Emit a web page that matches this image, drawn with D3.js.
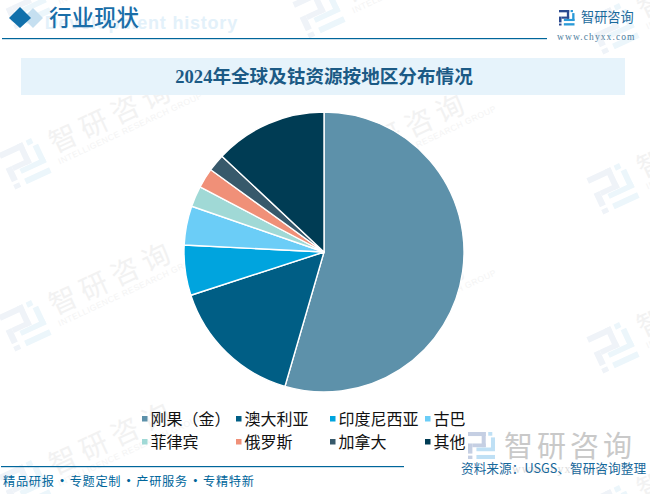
<!DOCTYPE html>
<html>
<head>
<meta charset="utf-8">
<script src="https://cdn.jsdelivr.net/npm/d3@7/dist/d3.min.js"></script>
<style>
  html, body { margin: 0; padding: 0; background: #fff; }
  svg { display: block; }
</style>
</head>
<body>
<svg id="chart" width="650" height="494"></svg>
<script>
// shares in percent
const regions = ["刚果（金）", "澳大利亚", "印度尼西亚", "古巴", "菲律宾", "俄罗斯", "加拿大", "其他"];
const shares = [54.5, 15.5, 5.8, 4.5, 2.4, 2.3, 2.0, 13.0];
const sliceColors = ["#5d91aa", "#005e85", "#00a4de", "#6bcdf7", "#a0d9d6", "#f09078", "#37596b", "#003c54"];
const footerItems = ["精品研报", "专题定制", "产研服务", "专精特新"];

const sans = "'Noto Sans CJK SC', 'Noto Sans', sans-serif";
const serif = "'Liberation Serif', 'Noto Sans CJK SC', serif";
const blue = "#00669b";

const svg = d3.select("#chart");

// logo drawn on a 16x16 grid
const logoDark = [[0,0,10.5,2.4],[8.1,0,2.4,9],[2.6,6.8,7.9,2.2],[0,6.8,2.6,6],[0,14,2.6,2]];
const logoLight = [[12,0,2.4,2.2],[13.6,3.2,2.4,8],[5,9.2,11,2.2],[5,13.6,11,2.4]];

function drawLogo(g, size, dark, light) {
  const k = size / 16;
  g.selectAll(null).data(logoDark).join("rect")
    .attr("x", d => d[0] * k).attr("y", d => d[1] * k)
    .attr("width", d => d[2] * k).attr("height", d => d[3] * k)
    .attr("fill", dark);
  g.selectAll(null).data(logoLight).join("rect")
    .attr("x", d => d[0] * k).attr("y", d => d[1] * k)
    .attr("width", d => d[2] * k).attr("height", d => d[3] * k)
    .attr("fill", light);
}

// background watermark tiles
const tileX = [25, 319, 613];
const tileY = [[3, 163, 325, 485], [12, 176, 340], [28, 188, 347, 510]];
tileX.forEach((x, i) => {
  tileY[i].forEach(y => {
    const t = svg.append("g").attr("transform", `translate(${x},${y}) rotate(-25)`);
    drawLogo(t.append("g").attr("transform", "translate(-20,-20)"), 40, "#eff3f8", "#ecf6fb");
    t.append("text").attr("x", 31).attr("y", 4)
      .attr("font-family", sans).attr("font-size", 28).attr("letter-spacing", 6)
      .attr("fill", "#f2f2f2").text("智研咨询");
    t.append("text").attr("x", 31).attr("y", 16)
      .attr("font-family", "'Liberation Sans', sans-serif").attr("font-size", 8.5).attr("letter-spacing", 0.5)
      .attr("fill", "#f4f4f4").text("INTELLIGENCE RESEARCH GROUP");
  });
});

// header
svg.append("text").attr("x", 238).attr("y", 29).attr("text-anchor", "end")
  .attr("font-family", "'Liberation Sans', sans-serif").attr("font-size", 18).attr("font-weight", 700)
  .attr("letter-spacing", 0.8).attr("fill", "#e3f1fa").text("Development history");
svg.append("path").attr("d", "M33 8L43 18L33 28L23 18Z").attr("fill", "#c5dff0");
svg.append("path").attr("d", "M20 7L31 18L20 28L9 18Z").attr("fill", "#1170ab");
svg.append("text").attr("x", 49).attr("y", 26)
  .attr("font-family", sans).attr("font-size", 22.5).attr("font-weight", 500)
  .attr("fill", "#1a6ea8").text("行业现状");
svg.append("rect").attr("x", 2).attr("y", 38).attr("width", 545).attr("height", 1.2).attr("fill", blue);

drawLogo(svg.append("g").attr("transform", "translate(559,10)"), 15.5, "#2b4a90", "#2a9ad8");
svg.append("text").attr("x", 581).attr("y", 22)
  .attr("font-family", sans).attr("font-size", 13.2).attr("fill", "#1b6a9c").text("智研咨询");
svg.append("text").attr("x", 557).attr("y", 40)
  .attr("font-family", serif).attr("font-size", 9.5).attr("letter-spacing", 1.1)
  .attr("fill", "#4d7c9c").text("www.chyxx.com");

// title band
svg.append("rect").attr("x", 21).attr("y", 58).attr("width", 604).attr("height", 37).attr("fill", "#e6f3fb");
svg.append("text").attr("x", 324).attr("y", 83).attr("text-anchor", "middle")
  .attr("font-family", serif).attr("font-size", 18.6).attr("font-weight", 700)
  .attr("fill", "#1b5a85").text("2024年全球及钴资源按地区分布情况");

// pie
const radius = 140;
const pieData = d3.pie().sort(null)(shares);
const arc = d3.arc().innerRadius(0).outerRadius(radius);
svg.append("g").attr("transform", "translate(324,252)")
  .selectAll("path")
  .data(pieData)
  .join("path")
    .attr("fill", (d, i) => sliceColors[i])
    .attr("stroke", "#fff")
    .attr("stroke-width", 1.4)
    .attr("d", arc);

// legend
const legendX = d3.scaleOrdinal().domain([0, 1, 2, 3]).range([142, 236, 330, 425]);
const legendY = d3.scaleOrdinal().domain([0, 1]).range([419, 442]);
const legend = svg.append("g").selectAll("g")
  .data(regions)
  .join("g")
    .attr("transform", (d, i) => `translate(${legendX(i % 4)},${legendY(Math.floor(i / 4))})`);
legend.append("rect").attr("x", 0).attr("y", -3).attr("width", 5.5).attr("height", 5.5)
  .attr("fill", (d, i) => sliceColors[i]);
legend.append("text").attr("x", 8.5).attr("y", 6)
  .attr("font-family", sans).attr("font-size", 16).attr("fill", "#111").text(d => d);

// footer
svg.append("rect").attr("x", 1).attr("y", 466).attr("width", 403).attr("height", 1.2).attr("fill", blue);
const footerX = d3.scalePoint().domain(footerItems).range([3, 203]);
const footer = svg.append("g").selectAll("g").data(footerItems).join("g")
  .attr("transform", d => `translate(${footerX(d)},486)`);
footer.append("text")
  .attr("font-family", sans).attr("font-size", 12.2).attr("letter-spacing", 0.7)
  .attr("fill", blue).text(d => d);
footer.filter((d, i) => i < 3).append("text").attr("x", 59).attr("text-anchor", "middle")
  .attr("font-family", sans).attr("font-size", 12.2).attr("font-weight", 700)
  .attr("fill", blue).text("·");

// bottom right mark
drawLogo(svg.append("g").attr("transform", "translate(468,432)"), 27, "#c5cfe3", "#bfe0f5");
svg.append("text").attr("x", 504).attr("y", 457)
  .attr("font-family", sans).attr("font-size", 29).attr("letter-spacing", 4)
  .attr("fill", "#c9c9c9").text("智研咨询");
svg.append("text").attr("x", 512).attr("y", 473)
  .attr("font-family", serif).attr("font-size", 12).attr("letter-spacing", 1)
  .attr("fill", "#dddddd").text("www.chyxx.com");
svg.append("text").attr("x", 461).attr("y", 473)
  .attr("font-family", sans).attr("font-size", 12.7)
  .attr("fill", "#17689b").text("资料来源：USGS、智研咨询整理");
</script>
</body>
</html>
